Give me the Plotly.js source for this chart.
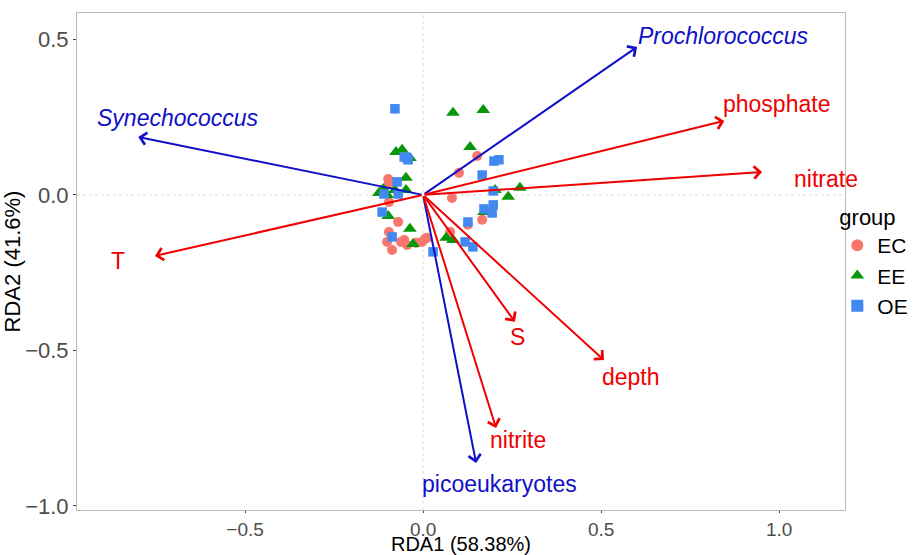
<!DOCTYPE html>
<html>
<head>
<meta charset="utf-8">
<script src="https://cdn.plot.ly/plotly-3.0.1.min.js"></script>
<style>html,body{margin:0;padding:0;background:#fff;}#chart{width:921px;height:555px;}</style>
</head>
<body>
<div id="chart"></div>
<script>
// Sample scores
const EC_x = [-0.098,-0.096,-0.096,-0.070,-0.096,-0.101,-0.062,-0.053,-0.045,-0.087,-0.003,0.006,0.011,0.152,0.101,0.081,0.166,0.126,0.076,-0.020];
const EC_y = [0.051,0.035,-0.023,-0.087,-0.119,-0.151,-0.151,-0.145,-0.161,-0.177,-0.151,-0.141,-0.138,0.125,0.071,-0.010,-0.080,-0.096,-0.119,-0.154];
const EE_x = [-0.076,-0.059,-0.037,-0.048,-0.124,-0.112,-0.101,-0.079,-0.048,-0.098,-0.037,-0.028,0.084,0.169,0.132,0.202,0.272,0.239,0.171,0.065,0.084];
const EE_y = [0.138,0.145,0.119,0.055,0.006,0.019,0.000,0.016,0.016,-0.068,-0.109,-0.158,0.264,0.273,0.154,0.016,0.023,-0.006,-0.055,-0.138,-0.145];
const OE_x = [-0.079,-0.053,-0.045,-0.042,-0.073,-0.110,-0.070,-0.115,-0.087,0.199,0.213,0.166,0.197,0.197,0.171,0.194,0.126,0.118,0.140,0.028];
const OE_y = [0.277,0.122,0.119,0.113,0.042,0.003,0.003,-0.055,-0.135,0.109,0.113,0.064,0.013,-0.032,-0.045,-0.058,-0.087,-0.151,-0.167,-0.183];

// Biplot vectors
const vecNames = ['Prochlorococcus','Synechococcus','picoeukaryotes','phosphate','nitrate','T','S','depth','nitrite'];
const vecKind  = ['species','species','species','env','env','env','env','env','env'];
const vecX = [0.601,-0.800,0.149,0.846,0.952,-0.753,0.258,0.508,0.205];
const vecY = [0.476,0.186,-0.862,0.238,0.074,-0.196,-0.408,-0.531,-0.749];
const labX = [0.843,-0.688,0.216,0.994,1.132,-0.857,0.264,0.584,0.267];
const labY = [0.511,0.248,-0.929,0.293,0.051,-0.212,-0.457,-0.585,-0.788];

const xTicks = [-0.5,0.0,0.5,1.0];
const yTicks = [-1.0,-0.5,0.0,0.5];

const FONT = 'Liberation Sans, Arial, sans-serif';
const BLUE = '#1010c8';
const RED = '#f00000';

const traces = [
  {x: EC_x, y: EC_y, name: 'EC', type: 'scatter', mode: 'markers',
   marker: {symbol: 'circle', size: 10, color: '#F8766D'}},
  {x: EE_x, y: EE_y, name: 'EE', type: 'scatter', mode: 'markers',
   marker: {symbol: 'triangle-up', size: 12, color: '#0a960a'}},
  {x: OE_x, y: OE_y, name: 'OE', type: 'scatter', mode: 'markers',
   marker: {symbol: 'square', size: 9.5, color: '#4189f0'}}
];

const annotations = [];
vecNames.forEach((n, i) => {
  const col = vecKind[i] === 'species' ? BLUE : RED;
  annotations.push({
    x: vecX[i], y: vecY[i], ax: 0, ay: 0, xref: 'x', yref: 'y', axref: 'x', ayref: 'y',
    showarrow: true, arrowhead: 4, arrowsize: 1.2, arrowwidth: 2, arrowcolor: col,
    standoff: 0, startstandoff: 0, text: ''
  });
});
vecNames.forEach((n, i) => {
  const col = vecKind[i] === 'species' ? BLUE : RED;
  const italic = (n === 'Prochlorococcus' || n === 'Synechococcus');
  annotations.push({
    x: labX[i], y: labY[i], xref: 'x', yref: 'y', showarrow: false,
    text: italic ? '<i>' + n + '</i>' : n,
    font: {family: FONT, size: 23, color: col}, xanchor: 'center', yanchor: 'middle'
  });
});

const layout = {
  width: 921, height: 555,
  margin: {l: 77, r: 76, t: 13, b: 45, pad: 0, autoexpand: false},
  paper_bgcolor: '#ffffff', plot_bgcolor: '#ffffff',
  font: {family: FONT, color: '#222'},
  showlegend: true,
  legend: {x: 0.99, y: 0.5, xanchor: 'left', yanchor: 'middle',
           title: {text: 'group', font: {family: FONT, size: 22, color: '#000'}},
           font: {family: FONT, size: 21, color: '#000'}, itemsizing: 'constant', itemwidth: 30,
           tracegroupgap: 0, bgcolor: 'rgba(0,0,0,0)'},
  xaxis: {range: [-0.972, 1.185], tickvals: xTicks, tickformat: '.1f', showgrid: false, zeroline: false,
          ticks: 'outside', ticklen: 2, tickcolor: '#444', tickfont: {family: FONT, size: 19, color: '#4d4d4d'},
          showline: true, mirror: true, linecolor: '#bbbbbb', linewidth: 1,
          title: {text: 'RDA1 (58.38%)', font: {family: FONT, size: 20, color: '#000'}, standoff: 3}},
  yaxis: {range: [-1.013, 0.585], tickvals: yTicks, tickformat: '.1f', showgrid: false, zeroline: false,
          ticks: 'outside', ticklen: 3, tickcolor: '#444', tickfont: {family: FONT, size: 22, color: '#4d4d4d'},
          showline: true, mirror: true, linecolor: '#bbbbbb', linewidth: 1,
          title: {text: 'RDA2 (41.6%)', font: {family: FONT, size: 22, color: '#000'}, standoff: 6}},
  shapes: [
    {type: 'line', xref: 'x', yref: 'paper', x0: 0, x1: 0, y0: 0, y1: 1, line: {color: '#dddddd', width: 1, dash: 'dot'}, layer: 'below'},
    {type: 'line', xref: 'paper', yref: 'y', x0: 0, x1: 1, y0: 0, y1: 0, line: {color: '#dddddd', width: 1, dash: 'dot'}, layer: 'below'}
  ],
  annotations: annotations
};

Plotly.newPlot('chart', traces, layout, {displayModeBar: false, staticPlot: true});
</script>
</body>
</html>
